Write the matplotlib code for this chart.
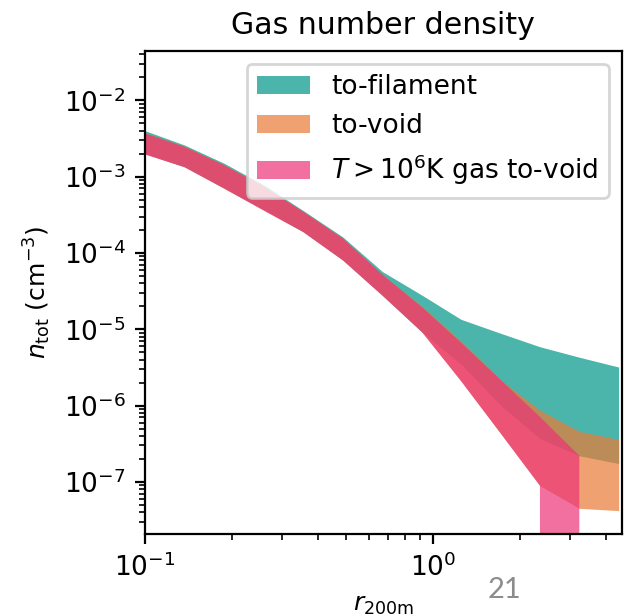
import numpy as np
import matplotlib
matplotlib.use("Agg")
from matplotlib import pyplot as plt

plt.rcParams['font.size'] = 9

# radius in units of r_200m
r = [0.100, 0.137, 0.188, 0.258, 0.354, 0.486, 0.667, 0.915, 1.25, 1.71, 2.35, 3.22, 4.41]

# gas number density bands (cm^-3), upper / lower envelope
fil_hi = [4.0e-3, 2.6e-3, 1.5e-3, 7.8e-4, 3.6e-4, 1.62e-4, 5.7e-5, 2.8e-5, 1.35e-5, 8.9e-6, 5.9e-6, 4.3e-6, 3.2e-6]
fil_lo = [2.0e-3, 1.35e-3, 7.1e-4, 3.7e-4, 1.9e-4, 8.1e-5, 2.8e-5, 9.2e-6, 3.5e-6, 1.02e-6, 3.7e-7, 2.2e-7, 1.74e-7]

void_hi = [3.75e-3, 2.5e-3, 1.43e-3, 7.5e-4, 3.5e-4, 1.56e-4, 5.2e-5, 2.0e-5, 7.0e-6, 2.2e-6, 8.7e-7, 4.6e-7, 3.6e-7]
void_lo = [2.0e-3, 1.35e-3, 7.05e-4, 3.66e-4, 1.9e-4, 8.1e-5, 2.8e-5, 9.2e-6, 2.1e-6, 4.4e-7, 8.9e-8, 4.5e-8, 4.2e-8]

# hot gas only defined out to r[11]
hot_hi = [3.7e-3, 2.47e-3, 1.42e-3, 7.4e-4, 3.47e-4, 1.55e-4, 5.2e-5, 1.95e-5, 6.7e-6, 2.2e-6, 7.1e-7, 2.2e-7]
hot_lo = [1.95e-3, 1.33e-3, 7.0e-4, 3.6e-4, 1.88e-4, 8.0e-5, 2.75e-5, 9.2e-6, 2.1e-6, 4.4e-7, 8.9e-8, 0.0]

fig = plt.figure(figsize=(3.195, 3.08), dpi=200)
ax = fig.add_axes([0.227, 0.133, 0.746, 0.785])

ax.fill_between(r, fil_lo, fil_hi, color='#009688', alpha=0.7, lw=0, label='to-filament')
ax.fill_between(r, void_lo, void_hi, color='#EB7A35', alpha=0.7, lw=0, label='to-void')
ax.fill_between(r[:len(hot_hi)], hot_lo, hot_hi, color='#EC3377', alpha=0.7, lw=0,
                label=r'$T>10^6$K gas to-void')

ax.set_xscale('log')
ax.set_yscale('log')
ax.set_xlim(0.1, 4.52)
ax.set_ylim(2.07e-8, 4.5e-2)
ax.tick_params(labelsize=9.5)

ax.set_xlabel(r'$r_{200\mathrm{m}}$')
ax.set_ylabel(r'$n_{\rm tot}$ (cm$^{-3}$)')
ax.set_title('Gas number density')
ax.legend(loc='upper right', fontsize=9.5)

fig.text(0.79, 0.042, '21', color='#8c8c8c', fontsize=10.5, family='Lato',
         ha='center', va='center')

fig.savefig('out.png', dpi=200)
